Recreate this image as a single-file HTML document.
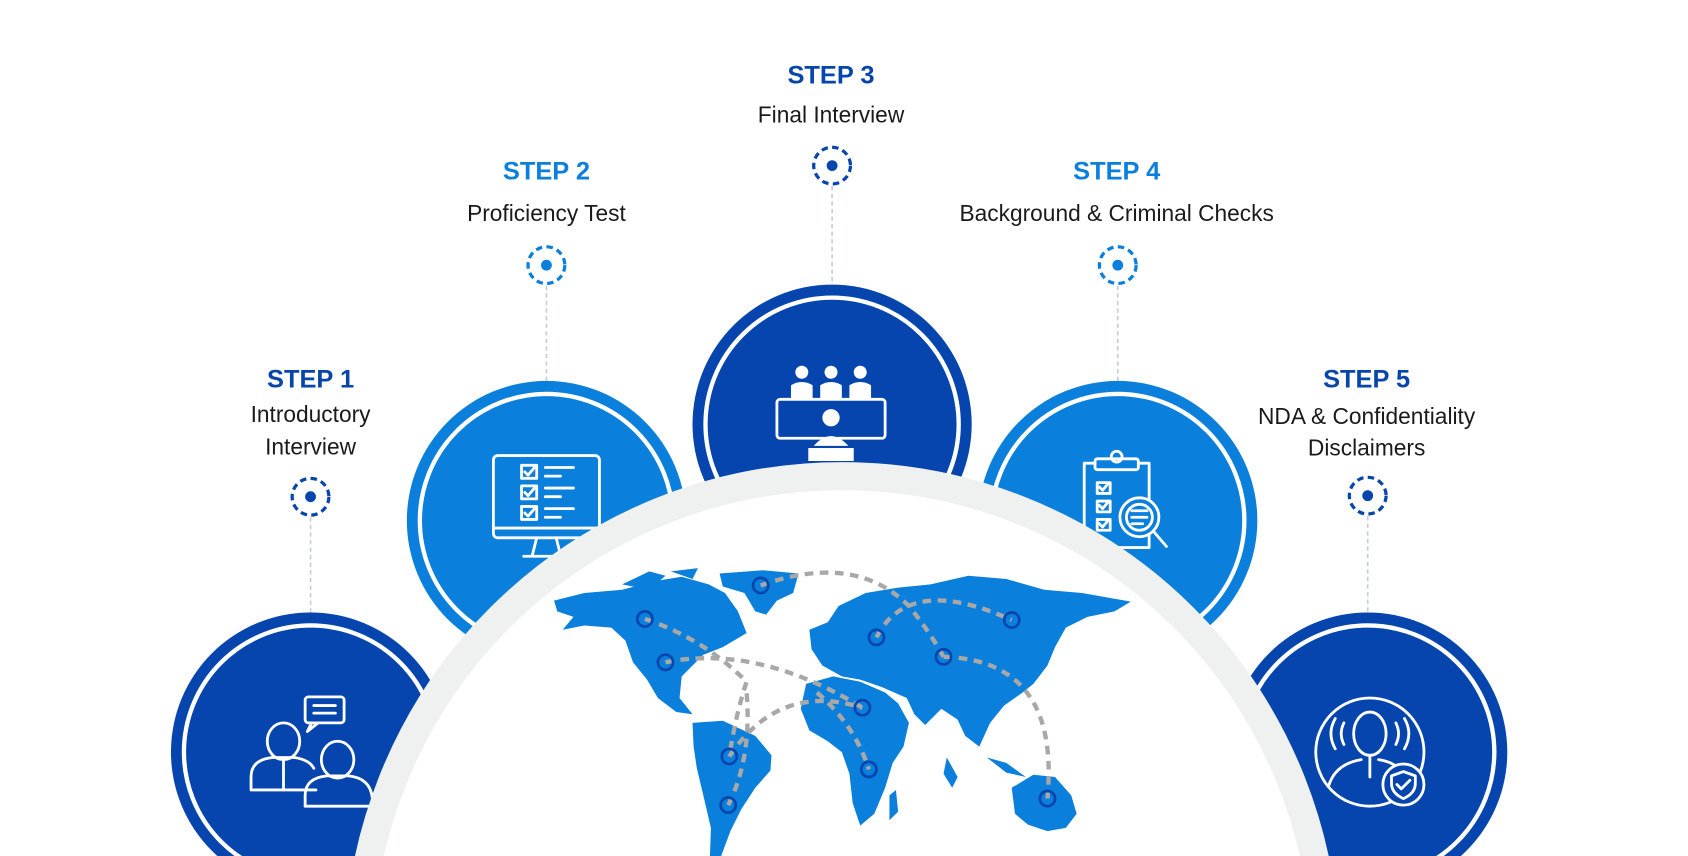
<!DOCTYPE html>
<html><head><meta charset="utf-8"><style>
html,body{margin:0;padding:0;background:#fff;width:1688px;height:856px;overflow:hidden}
svg{display:block;overflow:hidden}
.st{font-family:"Liberation Sans",sans-serif;font-weight:bold;font-size:23.5px;text-anchor:middle}
.ds{font-family:"Liberation Sans",sans-serif;font-size:21px;fill:#1a1a1a;text-anchor:middle}
.ic{fill:none;stroke:#fff;stroke-width:2.6;stroke-linejoin:round;stroke-linecap:round}
</style></head><body>
<svg width="1688" height="856" viewBox="0 0 1560 791" xmlns="http://www.w3.org/2000/svg">
<defs><clipPath id="cp"><rect x="0" y="0" width="1560" height="791"/></clipPath></defs>
<g clip-path="url(#cp)">
<g stroke="#c4ccd6" stroke-width="1.5" stroke-dasharray="4,3">
<line x1="769" y1="172" x2="769" y2="263"/>
<line x1="505" y1="264" x2="505" y2="352"/>
<line x1="1033" y1="264" x2="1033" y2="352"/>
<line x1="287" y1="478" x2="287" y2="566"/>
<line x1="1264" y1="477" x2="1264" y2="566"/>
</g>
<g fill="none" stroke-width="3" stroke-dasharray="6,4">
<circle cx="769" cy="153" r="17" stroke="#0645ad"/>
<circle cx="505" cy="245" r="17" stroke="#0a7fdc"/>
<circle cx="1033" cy="245" r="17" stroke="#0a7fdc"/>
<circle cx="287" cy="459" r="17" stroke="#0645ad"/>
<circle cx="1264" cy="458" r="17" stroke="#0645ad"/>
</g>
<circle cx="769" cy="153" r="5" fill="#0645ad"/>
<circle cx="505" cy="245" r="5" fill="#0a7fdc"/>
<circle cx="1033" cy="245" r="5" fill="#0a7fdc"/>
<circle cx="287" cy="459" r="5" fill="#0645ad"/>
<circle cx="1264" cy="458" r="5" fill="#0645ad"/>
<text class="st" x="768" y="77" fill="#0645ad">STEP 3</text>
<text class="ds" x="768" y="113">Final Interview</text>
<text class="st" x="505" y="166" fill="#0a7fdc">STEP 2</text>
<text class="ds" x="505" y="204">Proficiency Test</text>
<text class="st" x="1032" y="166" fill="#0a7fdc">STEP 4</text>
<text class="ds" x="1032" y="204">Background &amp; Criminal Checks</text>
<text class="st" x="287" y="358" fill="#0645ad">STEP 1</text>
<text class="ds" x="287" y="390">Introductory</text>
<text class="ds" x="287" y="420">Interview</text>
<text class="st" x="1263" y="358" fill="#0645ad">STEP 5</text>
<text class="ds" x="1263" y="392">NDA &amp; Confidentiality</text>
<text class="ds" x="1263" y="421">Disclaimers</text>
<g>
<circle cx="287" cy="695" r="129" fill="#0645ad"/><circle cx="287" cy="695" r="117" fill="none" stroke="#fff" stroke-width="4"/>
<circle cx="1264" cy="695" r="129" fill="#0645ad"/><circle cx="1264" cy="695" r="117" fill="none" stroke="#fff" stroke-width="4"/>
<circle cx="505" cy="481" r="129" fill="#0a7fdc"/><circle cx="505" cy="481" r="117" fill="none" stroke="#fff" stroke-width="4"/>
<circle cx="1033" cy="481" r="129" fill="#0a7fdc"/><circle cx="1033" cy="481" r="117" fill="none" stroke="#fff" stroke-width="4"/>
<circle cx="769" cy="392" r="129" fill="#0645ad"/><circle cx="769" cy="392" r="117" fill="none" stroke="#fff" stroke-width="4"/>
</g>
<g fill="#fff">
<circle cx="741" cy="344" r="6"/><path d="M731 368 v-12 q10-6 20 0 v12z"/>
<circle cx="768" cy="344" r="6"/><path d="M758 368 v-12 q10-6 20 0 v12z"/>
<circle cx="795" cy="344" r="6"/><path d="M785 368 v-12 q10-6 20 0 v12z"/>
<circle cx="768" cy="386" r="8"/><path d="M752 412 q16-18 32 0z"/>
<rect x="747" y="414" width="42" height="12"/>
</g>
<rect x="718" y="369" width="100" height="36" rx="3" class="ic"/>
<g class="ic">
<rect x="456" y="421" width="98" height="76" rx="4"/>
<line x1="456" y1="488" x2="554" y2="488"/>
<path d="M496 497 l-4 16 M514 497 l4 16 M484 514 h42"/>
<rect x="482" y="430" width="14" height="12"/><rect x="482" y="449" width="14" height="12"/><rect x="482" y="468" width="14" height="12"/>
<path d="M485 436 l3 3 6-7 M485 455 l3 3 6-7 M485 474 l3 3 6-7"/>
<path d="M504 432 h26 M504 440 h14 M504 451 h26 M504 459 h14 M504 470 h26 M504 478 h14"/>
</g>
<g class="ic">
<path d="M1012 428 h-10 v78 h60 v-78 h-10"/>
<rect x="1012" y="424" width="40" height="10" rx="2"/>
<circle cx="1032" cy="422" r="5"/>
<rect x="1014" y="446" width="12" height="10"/><rect x="1014" y="463" width="12" height="10"/><rect x="1014" y="480" width="12" height="10"/>
<path d="M1016 450 l3 3 5-6 M1016 467 l3 3 5-6 M1016 484 l3 3 5-6"/>
<circle cx="1053" cy="478" r="18" fill="#0a7fdc"/>
<circle cx="1053" cy="478" r="12"/>
<path d="M1046 472 h14 M1046 478 h14 M1046 484 h10 M1066 491 l12 14"/>
</g>
<g class="ic">
<rect x="282" y="644" width="36" height="24" rx="3"/>
<path d="M288 668 l-4 8 10-8 M290 652 h20 M290 659 h20"/>
<ellipse cx="262" cy="685" rx="15" ry="17"/>
<path d="M232 730 v-12 q0-16 20-18 h20 q14 2 18 10 M232 730 h60 M262 702 v28"/>
<ellipse cx="312" cy="702" rx="15" ry="17"/>
<path d="M282 745 v-10 q0-16 20-18 h20 q20 2 22 20"/>
<line x1="282" y1="745" x2="344" y2="745"/>
</g>
<g class="ic">
<circle cx="1266" cy="695" r="50"/>
<ellipse cx="1266" cy="678" rx="15" ry="20"/>
<path d="M1228 726 q6-20 30-24 M1274 702 q14 2 20 10 M1266 698 v20"/>
<path d="M1242 668 q-5 10 0 20 M1290 668 q5 10 0 20 M1234 664 q-8 14 0 28 M1298 664 q8 14 0 28"/>
<circle cx="1297" cy="725" r="19" fill="#0645ad"/>
<path d="M1297 713 l11 4 v7 q0 9-11 14 q-11-5-11-14 v-7z"/>
<path d="M1291 725 l4 4 8-8"/>
</g>
<circle cx="778" cy="887" r="447" fill="#fff" stroke="#eff1f1" stroke-width="26"/>
<g fill="#0a7fdc">
<path d="M512 555 L540 548 L575 545 L605 537 L630 533 L655 540 L670 548 L682 565 L690 585 L668 598 L650 605 L640 615 L630 625 L628 645 L640 660 L625 658 L608 645 L598 628 L585 612 L578 592 L565 580 L540 578 L520 582 L530 570 L515 565z"/>
<path d="M665 530 L705 527 L738 530 L733 548 L718 555 L708 568 L698 565 L688 548 L668 542z"/>
<path d="M640 668 L668 666 L698 680 L713 698 L712 712 L698 728 L685 748 L675 768 L665 795 L656 795 L657 765 L650 735 L644 710 L641 690z"/>
<path d="M748 582 L765 575 L775 560 L800 548 L830 543 L860 540 L895 532 L930 535 L965 545 L1000 548 L1045 556 L1030 565 L1005 570 L985 580 L975 598 L968 615 L955 632 L945 640 L928 652 L915 668 L905 690 L892 680 L885 665 L870 655 L855 670 L845 660 L838 645 L815 635 L795 628 L778 625 L760 615 L750 600z"/>
<path d="M745 632 L770 625 L795 630 L818 640 L830 650 L840 668 L835 690 L825 705 L818 728 L808 752 L795 763 L788 742 L785 715 L778 695 L765 685 L748 675 L740 655z"/>
<path d="M935 728 L955 716 L975 718 L990 735 L995 752 L985 765 L968 768 L950 762 L938 752z"/>
<path d="M912 700 L930 705 L948 718 L930 714z M875 700 L885 718 L880 728 L872 715z M822 735 L828 730 L830 750 L822 758z"/>
<path d="M575 540 L600 528 L615 532 L600 545 Z M620 528 L645 525 L640 535 Z"/>
</g>
<g fill="none" stroke="#a8a8a8" stroke-width="4" stroke-dasharray="8,6">
<path d="M596 572 Q650 590 690 630 Q680 660 674 699"/>
<path d="M615 612 Q700 595 797 654"/>
<path d="M703 541 Q790 510 840 560 Q860 585 872 607"/>
<path d="M810 589 Q840 530 935 573"/>
<path d="M872 607 Q980 610 968 738"/>
<path d="M674 699 Q720 630 797 654"/>
<path d="M755 640 Q790 670 803 711"/>
<path d="M673 744 Q695 700 690 640"/>
</g>
<g fill="none" stroke="#0645ad" stroke-width="2.5">
<circle cx="596" cy="572" r="7"/><circle cx="615" cy="612" r="7"/><circle cx="703" cy="541" r="7"/>
<circle cx="674" cy="699" r="7"/><circle cx="673" cy="744" r="7"/><circle cx="797" cy="654" r="7"/>
<circle cx="803" cy="711" r="7"/><circle cx="810" cy="589" r="7"/><circle cx="872" cy="607" r="7"/>
<circle cx="935" cy="573" r="7"/><circle cx="968" cy="738" r="7"/>
</g>
</g>
</svg>
</body></html>
